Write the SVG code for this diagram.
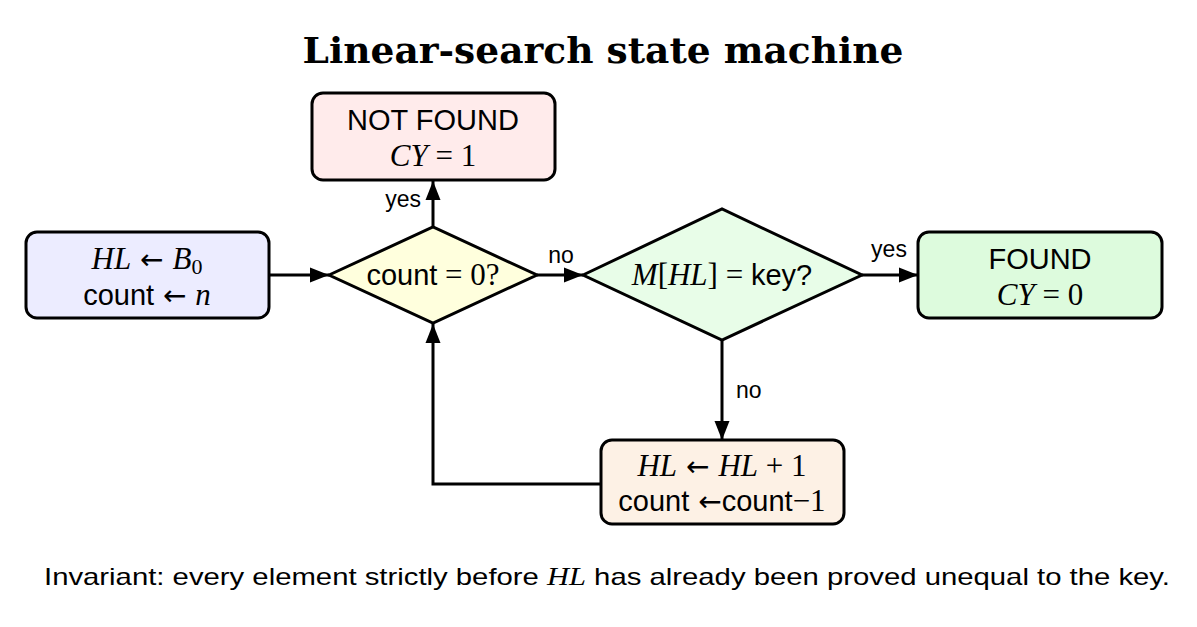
<svg xmlns="http://www.w3.org/2000/svg" width="1197" height="627" viewBox="0 0 1197 627">
<style>
.box{stroke:#000;stroke-width:3}
.t{font-family:"Liberation Sans",Arial,sans-serif;font-size:29px;fill:#000;text-anchor:middle}
.m{font-family:"Liberation Serif","Times New Roman",serif;font-style:italic;font-size:31px}
.r{font-family:"Liberation Serif","Times New Roman",serif;font-style:normal;font-size:31px}
.sub{font-family:"Liberation Serif","Times New Roman",serif;font-style:normal;font-size:22px}
.a{font-family:"DejaVu Sans",sans-serif;font-style:normal;font-size:28px}
.lbl{font-family:"Liberation Sans",Arial,sans-serif;font-size:23px;fill:#000}
.edge{fill:none;stroke:#000;stroke-width:3;marker-end:url(#ah)}
</style>
<defs>
<marker id="ah" markerUnits="userSpaceOnUse" markerWidth="20" markerHeight="16" refX="19" refY="8" orient="auto">
<path d="M0,0.5 L19,8 L0,15.5 z" fill="#000"/>
</marker>
</defs>
<rect width="1197" height="627" fill="#fff"/>
<text x="603" y="63" font-family="'DejaVu Serif','Liberation Serif',serif" font-weight="bold" font-size="35" text-anchor="middle" textLength="601" lengthAdjust="spacingAndGlyphs">Linear-search state machine</text>

<g id="edges">
<path class="edge" d="M269,275 L329,275"/>
<path class="edge" d="M433,227 L433,181"/>
<path class="edge" d="M537,275 L583,275"/>
<path class="edge" d="M862,275 L918,275"/>
<path class="edge" d="M722,340 L722,440"/>
<path class="edge" d="M601,484 L433,484 L433,324"/>
<text class="lbl" x="421" y="207" text-anchor="end">yes</text>
<text class="lbl" x="561" y="263" text-anchor="middle">no</text>
<text class="lbl" x="889" y="257" text-anchor="middle">yes</text>
<text class="lbl" x="736" y="398">no</text>
</g>

<g id="start">
<rect class="box" x="26" y="232" width="243" height="86" rx="11" fill="#ececff"/>
<text class="t" x="147" y="269"><tspan class="m">HL</tspan><tspan class="a"> ← </tspan><tspan class="m">B</tspan><tspan class="sub" dy="5">0</tspan></text>
<text class="t" x="147" y="305">count<tspan class="a"> ← </tspan><tspan class="m">n</tspan></text>
</g>

<g id="notfound">
<rect class="box" x="312" y="93" width="243" height="87" rx="11" fill="#ffebeb"/>
<text class="t" x="433" y="130">NOT FOUND</text>
<text class="t" x="433" y="166"><tspan class="m">CY</tspan><tspan class="r"> = 1</tspan></text>
</g>

<g id="check-count">
<polygon class="box" points="329,275 433,227 537,275 433,323" fill="#ffffdd"/>
<text class="t" x="433" y="285">count<tspan class="r"> = 0?</tspan></text>
</g>

<g id="check-key">
<polygon class="box" points="583,275 722,209 862,275 722,340" fill="#e8fde8"/>
<text class="t" x="722" y="285"><tspan class="m">M</tspan><tspan class="r">[</tspan><tspan class="m">HL</tspan><tspan class="r">] = </tspan>key?</text>
</g>

<g id="found">
<rect class="box" x="918" y="232" width="244" height="86" rx="11" fill="#ddfbdd"/>
<text class="t" x="1040" y="269">FOUND</text>
<text class="t" x="1040" y="305"><tspan class="m">CY</tspan><tspan class="r"> = 0</tspan></text>
</g>

<g id="advance">
<rect class="box" x="601" y="440" width="243" height="84" rx="11" fill="#fdf1e5"/>
<text class="t" x="722" y="476"><tspan class="m">HL</tspan><tspan class="a"> ← </tspan><tspan class="m">HL</tspan><tspan class="r"> + 1</tspan></text>
<text class="t" x="722" y="511">count<tspan class="a"> ←</tspan>count<tspan class="r">−1</tspan></text>
</g>

<text x="607" y="585" font-family="Liberation Sans,Arial,sans-serif" font-size="24" text-anchor="middle" textLength="1126" lengthAdjust="spacingAndGlyphs">Invariant: every element strictly before <tspan class="m" style="font-size:25px">HL</tspan> has already been proved unequal to the key.</text>
</svg>
